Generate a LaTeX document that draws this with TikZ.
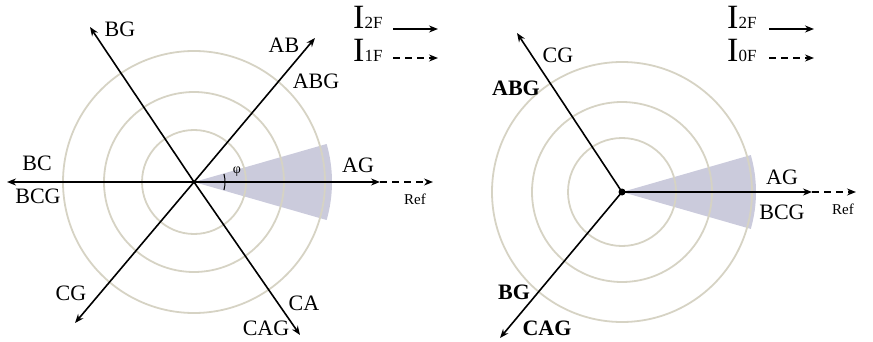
\documentclass[tikz,border=0pt]{standalone}
\usepackage{fontspec}
\setmainfont{Liberation Serif}
\usetikzlibrary{arrows.meta}
\definecolor{ringcol}{RGB}{214,211,196}
\definecolor{wedgecol}{RGB}{160,160,192}

\begin{document}
\begin{tikzpicture}[x=1pt,y=-1pt,
    ring/.style={draw=ringcol,line width=1.8pt},
    axis/.style={line width=1.6pt,-{Stealth[length=9pt,width=7pt]}},
    refaxis/.style={axis,dash pattern=on 7pt off 5pt},
    lbl/.style={font=\fontsize{22}{24}\selectfont,inner sep=0pt},
    blbl/.style={font=\fontsize{22}{24}\selectfont\bfseries,inner sep=0pt},
    small/.style={font=\fontsize{15}{17}\selectfont,inner sep=0pt},
    legtext/.style={anchor=base west,inner sep=0pt}]
  \useasboundingbox (0,0) rectangle (873,342);

  % left diagram
  \coordinate (o1) at (194,182);
  \fill[wedgecol,fill opacity=.55] (o1) -- ++(16:138) arc[start angle=16,end angle=-16,radius=138] -- cycle;
  \foreach \r in {52,90,131}
    \draw[ring] (o1) circle[radius=\r];
  \draw[line width=1pt] (o1) ++(-15:31) arc[start angle=-15,end angle=15,radius=31];

  \coordinate (ab1) at (315,38);
  \coordinate (cg1) at (75,323);
  \coordinate (bg1) at (90,27);
  \coordinate (ca1) at (300,335);
  \coordinate (bc1) at (7,182);
  \coordinate (ag1) at (380,182);
  \coordinate (ref1) at (433,182);

  \draw[axis] (o1) -- (ab1);
  \draw[axis] (o1) -- (cg1);
  \draw[axis] (o1) -- (bg1);
  \draw[axis] (o1) -- (ca1);
  \draw[axis] (o1) -- (bc1);
  \draw[axis] (o1) -- (ag1);
  \draw[refaxis] (ag1) -- (ref1);

  \node[lbl] (tbg1) at (120,29) {BG};
  \node[lbl] (tab1) at (284,45) {AB};
  \node[lbl] (tabg1) at (316,81) {ABG};
  \node[lbl] (tag1) at (358,165) {AG};
  \node[small] (tref1) at (415,199) {Ref};
  \node[lbl] (tbc1) at (37,163) {BC};
  \node[lbl] (tbcg1) at (38,196) {BCG};
  \node[lbl] (tcg1) at (71,293) {CG};
  \node[lbl] (tca1) at (304,303) {CA};
  \node[lbl] (tcag1) at (266,328) {CAG};
  \node[font=\fontsize{14}{16}\selectfont,inner sep=0pt] (phi) at (237,172) {φ};

  % right diagram
  \coordinate (o2) at (622,192);
  \fill[wedgecol,fill opacity=.55] (o2) -- ++(16:134) arc[start angle=16,end angle=-16,radius=134] -- cycle;
  \foreach \r in {54,90,130}
    \draw[ring] (o2) circle[radius=\r];

  \coordinate (cg2) at (517,33);
  \coordinate (bg2) at (500,338);
  \coordinate (ag2) at (812,192);
  \coordinate (ref2) at (856,192);

  \draw[axis] (o2) -- (cg2);
  \draw[axis] (o2) -- (bg2);
  \draw[axis] (o2) -- (ag2);
  \draw[refaxis] (ag2) -- (ref2);
  \fill (o2) circle[radius=3.5];

  \node[lbl] (tcg2) at (558,55) {CG};
  \node[blbl] (tabg2) at (516,88) {ABG};
  \node[lbl] (tag2) at (782,177) {AG};
  \node[lbl] (tbcg2) at (782,212) {BCG};
  \node[small] (tref2) at (843,209) {Ref};
  \node[blbl] (tbg2) at (514,292) {BG};
  \node[blbl] (tcag2) at (547,328) {CAG};

  % legends
  \node[legtext] (leg1) at (353,29)
    {\fontsize{34}{36}\selectfont I\fontsize{17}{18}\selectfont 2F};
  \node[legtext] (leg2) at (353,62)
    {\fontsize{34}{36}\selectfont I\fontsize{17}{18}\selectfont 1F};
  \node[legtext] (leg3) at (727,29)
    {\fontsize{34}{36}\selectfont I\fontsize{17}{18}\selectfont 2F};
  \node[legtext] (leg4) at (727,62)
    {\fontsize{34}{36}\selectfont I\fontsize{17}{18}\selectfont 0F};

  \coordinate (l1a) at (393,29); \coordinate (l1b) at (438,29);
  \coordinate (l2a) at (393,58); \coordinate (l2b) at (438,58);
  \coordinate (l3a) at (769,29); \coordinate (l3b) at (814,29);
  \coordinate (l4a) at (769,58); \coordinate (l4b) at (814,58);
  \draw[axis] (l1a) -- (l1b);
  \draw[refaxis] (l2a) -- (l2b);
  \draw[axis] (l3a) -- (l3b);
  \draw[refaxis] (l4a) -- (l4b);
\end{tikzpicture}
\end{document}
